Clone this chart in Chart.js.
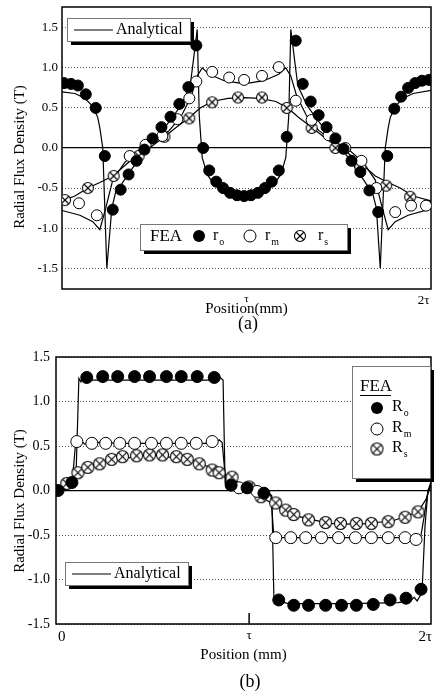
<!DOCTYPE html>
<html lang="en">
<head>
<meta charset="UTF-8">
<title>Radial Flux Density</title>
<script src="https://cdn.jsdelivr.net/npm/chart.js"></script>
<style>
  body { margin: 0; background: #fff; width: 438px; height: 695px; position: relative; overflow: hidden; font-family: "Liberation Serif", serif; }
  .box { position: absolute; left: 0; width: 438px; }
  #boxA { top: 0; height: 332px; }
  #boxB { top: 332px; height: 363px; }
  .cap { position: absolute; left: 208px; width: 80px; text-align: center; font-size: 18px; line-height: 20px; }
</style>
</head>
<body>
<div class="box" id="boxA"><canvas id="chartA"></canvas></div>
<div class="box" id="boxB"><canvas id="chartB"></canvas></div>
<div class="cap" style="top:313px">(a)</div>
<div class="cap" style="top:671px; left:210px">(b)</div>

<script>
// ticks (x in units of tau)
const yTicks = [-1.5, -1.0, -0.5, 0.0, 0.5, 1.0, 1.5];
const xTicksA = [1, 1.96];
const xTickLabelsA = ['τ', '2τ'];
const xTicksB = [0, 1, 1.94];
const xTickLabelsB = ['0', 'τ', '2τ'];

// (a) analytical curves
const anaRoA = [[0,0.70],[0.070,0.68],[0.124,0.62],[0.167,0.52],[0.194,0.38],[0.205,0.25],[0.221,0.0],[0.243,-1.5],
  [0.270,-0.75],[0.291,-0.55],[0.323,-0.45],[0.361,-0.32],[0.404,-0.18],[0.447,-0.04],[0.501,0.10],[0.550,0.24],
  [0.598,0.38],[0.647,0.54],[0.695,0.78],[0.733,1.48],[0.744,0.40],[0.760,-0.12],[0.787,-0.33],[0.825,-0.46],
  [0.879,-0.55],[0.933,-0.59],[0.987,-0.60],[1.040,-0.59],[1.094,-0.55],[1.148,-0.46],[1.186,-0.33],[1.213,-0.12],
  [1.229,0.40],[1.240,1.48],[1.278,0.78],[1.326,0.54],[1.375,0.38],[1.423,0.24],[1.472,0.10],[1.526,-0.04],
  [1.569,-0.18],[1.612,-0.32],[1.650,-0.45],[1.682,-0.55],[1.704,-0.75],[1.725,-1.5],[1.752,0.0],[1.768,0.25],
  [1.779,0.38],[1.806,0.52],[1.849,0.62],[1.903,0.68],[2.0,0.72]];
const anaRmA = [[0,-0.78],[0.097,-0.84],[0.167,-0.92],[0.205,-1.02],[0.237,-0.75],[0.275,-0.40],[0.340,-0.18],
  [0.420,-0.02],[0.501,0.08],[0.582,0.22],[0.647,0.40],[0.701,0.65],[0.733,0.90],[0.760,1.0],[0.798,0.92],
  [0.879,0.84],[0.987,0.80],[1.094,0.84],[1.175,0.92],[1.213,1.0],[1.240,0.90],[1.272,0.65],[1.326,0.40],
  [1.391,0.22],[1.472,0.08],[1.553,-0.02],[1.633,-0.18],[1.698,-0.40],[1.736,-0.75],[1.768,-1.02],[1.806,-0.92],
  [1.876,-0.84],[2.0,-0.76]];
const anaRsA = [[0,-0.66],[0.070,-0.60],[0.140,-0.50],[0.205,-0.43],[0.275,-0.35],[0.350,-0.20],[0.420,-0.07],
  [0.474,0.0],[0.555,0.14],[0.620,0.26],[0.690,0.38],[0.749,0.50],[0.814,0.58],[0.900,0.62],[0.987,0.63],
  [1.073,0.62],[1.159,0.58],[1.224,0.50],[1.283,0.38],[1.353,0.26],[1.418,0.14],[1.499,0.0],[1.553,-0.07],
  [1.623,-0.20],[1.698,-0.35],[1.768,-0.43],[1.833,-0.50],[1.903,-0.60],[2.0,-0.66]];

// (a) FEA points
const feaRoA = [[0.011,0.81],[0.049,0.80],[0.086,0.78],[0.129,0.67],[0.183,0.50],[0.232,-0.10],[0.275,-0.77],
  [0.318,-0.52],[0.361,-0.33],[0.404,-0.16],[0.447,-0.02],[0.491,0.12],[0.539,0.26],[0.588,0.39],[0.636,0.55],
  [0.685,0.76],[0.728,1.28],[0.765,0.0],[0.798,-0.28],[0.836,-0.42],[0.873,-0.50],[0.911,-0.56],[0.949,-0.59],
  [0.987,-0.60],[1.024,-0.59],[1.062,-0.56],[1.100,-0.50],[1.137,-0.42],[1.175,-0.28],[1.218,0.14],[1.267,1.34],
  [1.305,0.80],[1.348,0.58],[1.391,0.41],[1.434,0.26],[1.482,0.12],[1.526,-0.01],[1.569,-0.16],[1.617,-0.30],
  [1.666,-0.53],[1.714,-0.80],[1.763,-0.10],[1.801,0.49],[1.838,0.64],[1.876,0.75],[1.914,0.81],[1.951,0.84],[1.989,0.85]];
const feaRmA = [[0.092,-0.69],[0.189,-0.84],[0.367,-0.10],[0.453,0.04],[0.544,0.15],[0.625,0.36],[0.690,0.62],
  [0.728,0.83],[0.814,0.95],[0.906,0.88],[0.987,0.85],[1.084,0.90],[1.175,1.01],[1.267,0.59],[1.353,0.35],
  [1.445,0.16],[1.536,0.0],[1.623,-0.16],[1.704,-0.50],[1.806,-0.80],[1.892,-0.72],[1.973,-0.72]];
const feaRsA = [[0.016,-0.65],[0.140,-0.50],[0.280,-0.35],[0.415,-0.10],[0.555,0.14],[0.690,0.37],[0.814,0.57],
  [0.954,0.63],[1.084,0.63],[1.218,0.50],[1.353,0.25],[1.482,0.0],[1.617,-0.24],[1.757,-0.47],[1.887,-0.61]];

// (b) analytical curves
const anaRoB = [[-0.03,-0.02],[0.002,0.0],[0.044,0.05],[0.076,0.12],[0.087,0.9],[0.092,1.26],[0.103,1.22],
  [0.113,1.28],[0.129,1.24],[0.469,1.24],[0.814,1.24],[0.845,1.27],[0.861,1.24],[0.872,0.08],[0.920,0.05],
  [1.026,0.02],[1.105,-0.03],[1.121,-0.06],[1.132,-1.20],[1.148,-1.24],[1.211,-1.27],[1.530,-1.27],[1.795,-1.26],
  [1.859,-1.24],[1.880,-1.20],[1.896,-1.24],[1.922,-1.15],[1.938,-0.40],[1.954,0.0],[1.970,0.10]];
const anaRmB = [[-0.03,-0.02],[0.002,0.0],[0.055,0.07],[0.065,0.30],[0.076,0.57],[0.092,0.52],[0.108,0.55],
  [0.124,0.52],[0.203,0.54],[0.310,0.53],[0.469,0.53],[0.734,0.53],[0.814,0.53],[0.840,0.57],[0.856,0.54],
  [0.877,0.06],[0.946,0.03],[1.052,0.0],[1.116,-0.05],[1.132,-0.52],[1.158,-0.53],[1.264,-0.53],[1.530,-0.53],
  [1.795,-0.53],[1.890,-0.53],[1.912,-0.56],[1.933,-0.30],[1.954,0.0],[1.970,0.05]];
const anaRsB = [[-0.03,-0.02],[0.028,0.06],[0.071,0.17],[0.140,0.26],[0.256,0.34],[0.469,0.40],[0.681,0.35],
  [0.803,0.25],[0.893,0.16],[1.010,0.0],[1.132,-0.16],[1.238,-0.28],[1.424,-0.37],[1.583,-0.38],[1.768,-0.34],
  [1.901,-0.24],[1.943,-0.10],[1.970,0.06]];

// (b) FEA points
const feaRoB = [[-0.019,0.0],[0.055,0.09],[0.134,1.27],[0.219,1.28],[0.299,1.28],[0.389,1.28],[0.469,1.28],
  [0.559,1.28],[0.638,1.28],[0.723,1.28],[0.814,1.27],[0.904,0.06],[0.989,0.03],[1.079,-0.03],[1.158,-1.23],
  [1.238,-1.29],[1.317,-1.29],[1.408,-1.29],[1.493,-1.29],[1.572,-1.29],[1.662,-1.28],[1.752,-1.23],[1.837,-1.21],[1.917,-1.11]];
const feaRmB = [[0.081,0.55],[0.161,0.53],[0.235,0.53],[0.310,0.53],[0.389,0.53],[0.479,0.53],[0.559,0.53],
  [0.638,0.53],[0.718,0.53],[0.803,0.55],[0.946,0.03],[1.042,-0.01],[1.142,-0.53],[1.222,-0.53],[1.302,-0.53],
  [1.386,-0.53],[1.477,-0.53],[1.567,-0.53],[1.652,-0.53],[1.742,-0.53],[1.832,-0.53],[1.890,-0.55]];
const feaRsB = [[0.028,0.08],[0.087,0.20],[0.140,0.26],[0.203,0.30],[0.267,0.35],[0.325,0.38],[0.400,0.39],
  [0.469,0.40],[0.538,0.40],[0.612,0.38],[0.670,0.35],[0.734,0.30],[0.803,0.23],[0.840,0.20],[0.909,0.15],
  [1.000,0.04],[1.063,-0.07],[1.142,-0.14],[1.195,-0.22],[1.238,-0.27],[1.317,-0.33],[1.408,-0.36],[1.487,-0.37],
  [1.572,-0.37],[1.652,-0.37],[1.742,-0.35],[1.832,-0.30],[1.901,-0.24]];

const SERIF = '"Liberation Serif", "Times New Roman", serif';
const pts = arr => arr.map(p => ({ x: p[0], y: p[1] }));

// crossed circle marker
function crossMark(r) {
  const c = document.createElement('canvas');
  const s = Math.ceil(r * 2 + 3);
  c.width = c.height = s;
  const g = c.getContext('2d');
  const m = s / 2;
  g.fillStyle = '#fff';
  g.strokeStyle = '#000';
  g.lineWidth = 1.1;
  g.beginPath(); g.arc(m, m, r, 0, Math.PI * 2); g.fill(); g.stroke();
  const d = r * 0.68;
  g.beginPath();
  g.moveTo(m - d, m - d); g.lineTo(m + d, m + d);
  g.moveTo(m + d, m - d); g.lineTo(m - d, m + d);
  g.stroke();
  return c;
}
const crossA = crossMark(5.5);
const crossB = crossMark(6);

function lineSet(data) {
  return { data: pts(data), showLine: true, borderColor: '#000', borderWidth: 1.2, pointRadius: 0, fill: false };
}
function dotSet(data, r, filled) {
  return { data: pts(data), showLine: false, pointRadius: r, pointBackgroundColor: filled ? '#000' : '#fff',
    pointBorderColor: '#000', pointBorderWidth: 1 };
}
function crossSet(data, img) {
  return { data: pts(data), showLine: false, pointStyle: img, pointRadius: 6 };
}

function shadowBox(ctx, x, y, w, h) {
  ctx.fillStyle = '#000';
  ctx.fillRect(x + 4, y + 4, w, h);
  ctx.fillStyle = '#fff';
  ctx.fillRect(x, y, w, h);
  ctx.strokeStyle = '#777';
  ctx.lineWidth = 1;
  ctx.strokeRect(x + 0.5, y + 0.5, w, h);
}
function subLabel(ctx, main, sub, x, y, size) {
  ctx.font = size + 'px ' + SERIF;
  ctx.textAlign = 'left';
  ctx.textBaseline = 'middle';
  ctx.fillStyle = '#000';
  ctx.fillText(main, x, y);
  const w = ctx.measureText(main).width;
  ctx.font = (size * 0.62) + 'px ' + SERIF;
  ctx.fillText(sub, x + w + 1, y + size * 0.42);
}
function analyticalBox(ctx, x, y) {
  shadowBox(ctx, x, y, 123, 23);
  ctx.strokeStyle = '#000';
  ctx.lineWidth = 1.2;
  ctx.beginPath(); ctx.moveTo(x + 7, y + 12); ctx.lineTo(x + 46, y + 12); ctx.stroke();
  ctx.fillStyle = '#000';
  ctx.font = '16px ' + SERIF;
  ctx.textAlign = 'left';
  ctx.textBaseline = 'middle';
  ctx.fillText('Analytical', x + 49, y + 12);
}
function yTitle(ctx, x, y, size) {
  ctx.save();
  ctx.translate(x, y);
  ctx.rotate(-Math.PI / 2);
  ctx.font = size + 'px ' + SERIF;
  ctx.fillStyle = '#000';
  ctx.textAlign = 'center';
  ctx.textBaseline = 'middle';
  ctx.fillText('Radial Flux Density (T)', 0, 0);
  ctx.restore();
}

const frameA = {
  id: 'frameA',
  beforeDatasetsDraw(chart) {
    const { ctx, chartArea: a } = chart;
    ctx.save();
    ctx.strokeStyle = '#000';
    ctx.lineWidth = 1.5;
    ctx.strokeRect(a.left, a.top, a.right - a.left, a.bottom - a.top);
    ctx.restore();
  },
  afterDraw(chart) {
    const ctx = chart.ctx;
    ctx.save();
    yTitle(ctx, 20, 157, 15);
    analyticalBox(ctx, 67, 18);
    // FEA legend
    shadowBox(ctx, 140, 224, 207, 26);
    ctx.fillStyle = '#000';
    ctx.font = '17px ' + SERIF;
    ctx.textAlign = 'left';
    ctx.textBaseline = 'middle';
    ctx.fillText('FEA', 150, 237);
    ctx.beginPath(); ctx.arc(199, 236, 6, 0, Math.PI * 2); ctx.fill();
    subLabel(ctx, 'r', 'o', 213, 236, 16);
    ctx.strokeStyle = '#000'; ctx.lineWidth = 1;
    ctx.beginPath(); ctx.arc(250, 236, 6, 0, Math.PI * 2); ctx.stroke();
    subLabel(ctx, 'r', 'm', 265, 236, 16);
    ctx.drawImage(crossA, 300 - crossA.width / 2, 236 - crossA.height / 2);
    subLabel(ctx, 'r', 's', 318, 236, 16);
    ctx.restore();
  }
};

const frameB = {
  id: 'frameB',
  beforeDatasetsDraw(chart) {
    const { ctx, chartArea: a, scales } = chart;
    ctx.save();
    ctx.strokeStyle = '#000';
    ctx.lineWidth = 1.5;
    ctx.strokeRect(a.left, a.top, a.right - a.left, a.bottom - a.top);
    const tx = scales.x.getPixelForValue(1);
    ctx.beginPath(); ctx.moveTo(tx, a.bottom); ctx.lineTo(tx, a.bottom - 11); ctx.stroke();
    ctx.restore();
  },
  afterDraw(chart) {
    const ctx = chart.ctx;
    ctx.save();
    yTitle(ctx, 20, 169, 15);
    analyticalBox(ctx, 65, 230);
    shadowBox(ctx, 352, 34, 78, 112);
    ctx.fillStyle = '#000';
    ctx.font = '17px ' + SERIF;
    ctx.textAlign = 'left';
    ctx.textBaseline = 'middle';
    ctx.fillText('FEA', 360, 55);
    ctx.lineWidth = 1;
    ctx.strokeStyle = '#000';
    ctx.beginPath(); ctx.moveTo(360, 63.5); ctx.lineTo(391, 63.5); ctx.stroke();
    ctx.beginPath(); ctx.arc(377, 76, 6, 0, Math.PI * 2); ctx.fill();
    subLabel(ctx, 'R', 'o', 392, 75, 16);
    ctx.beginPath(); ctx.arc(377, 97, 6, 0, Math.PI * 2); ctx.stroke();
    subLabel(ctx, 'R', 'm', 392, 96, 16);
    ctx.drawImage(crossB, 377 - crossB.width / 2, 117 - crossB.height / 2);
    subLabel(ctx, 'R', 's', 392, 116, 16);
    ctx.restore();
  }
};

function gridOpts() {
  return {
    color: ctx => (ctx.tick && ctx.tick.value === 0) ? '#000' : '#555',
    lineWidth: ctx => (ctx.tick && ctx.tick.value === 0) ? 1.3 : 1,
    drawTicks: false
  };
}

function makeChart(id, o) {
  return new Chart(document.getElementById(id), {
    type: 'scatter',
    data: { datasets: o.datasets },
    options: {
      responsive: true,
      maintainAspectRatio: false,
      animation: false,
      layout: { padding: o.padding },
      plugins: { legend: { display: false }, tooltip: { enabled: false } },
      scales: {
        x: {
          type: 'linear', min: o.xmin, max: o.xmax,
          grid: { display: false },
          border: { display: false },
          afterBuildTicks: s => { s.ticks = o.xTicks.map(v => ({ value: v })); },
          afterFit: s => { s.height = o.xHeight; s.paddingLeft = 0; s.paddingRight = 0; },
          ticks: {
            color: '#000', padding: o.xPad, maxRotation: 0, autoSkip: false,
            font: ctx => ({ family: SERIF, size: (ctx.tick && o.xTickLabels[o.xTicks.indexOf(ctx.tick.value)] === 'τ') ? o.tauSize : o.xSize }),
            callback: v => o.xTickLabels[o.xTicks.indexOf(v)]
          },
          title: { display: true, text: o.xTitle, color: '#000', font: { family: SERIF, size: 15 }, padding: { top: 0, bottom: o.titlePad } }
        },
        y: {
          type: 'linear', min: o.ymin, max: o.ymax,
          grid: gridOpts(),
          border: { display: false, dash: ctx => (ctx.type === 'tick' && ctx.tick.value !== 0) ? [1, 2] : [] },
          afterBuildTicks: s => { s.ticks = yTicks.map(v => ({ value: v })); },
          afterFit: s => { s.width = o.yWidth; s.paddingTop = 0; s.paddingBottom = 0; },
          ticks: { color: '#000', padding: o.yPad, font: { family: SERIF, size: o.ySize }, callback: v => v.toFixed(1) }
        }
      }
    },
    plugins: [o.plugin]
  });
}

makeChart('chartA', {
  datasets: [
    dotSet(feaRoA, 5.5, true), dotSet(feaRmA, 5.5, false), crossSet(feaRsA, crossA),
    lineSet(anaRoA), lineSet(anaRmA), lineSet(anaRsA)
  ],
  padding: { left: 0, top: 4, right: 5, bottom: 0 },
  xmin: 0, xmax: 2, ymin: -1.76, ymax: 1.76,
  xTicks: xTicksA, xTickLabels: xTickLabelsA, xHeight: 43, xPad: -4, xSize: 13, tauSize: 11,
  xTitle: 'Position(mm)', titlePad: 14,
  yWidth: 62, yPad: 4, ySize: 13,
  plugin: frameA
});

makeChart('chartB', {
  datasets: [
    dotSet(feaRoB, 6, true), dotSet(feaRmB, 6, false), crossSet(feaRsB, crossB),
    lineSet(anaRoB), lineSet(anaRmB), lineSet(anaRsB)
  ],
  padding: { left: 0, top: 25, right: 5, bottom: 0 },
  xmin: -0.03, xmax: 1.97, ymin: -1.5, ymax: 1.5,
  xTicks: xTicksB, xTickLabels: xTickLabelsB, xHeight: 71, xPad: -4, xSize: 15, tauSize: 13,
  xTitle: 'Position (mm)', titlePad: 31,
  yWidth: 56, yPad: 6, ySize: 14,
  plugin: frameB
});
</script>
</body>
</html>
